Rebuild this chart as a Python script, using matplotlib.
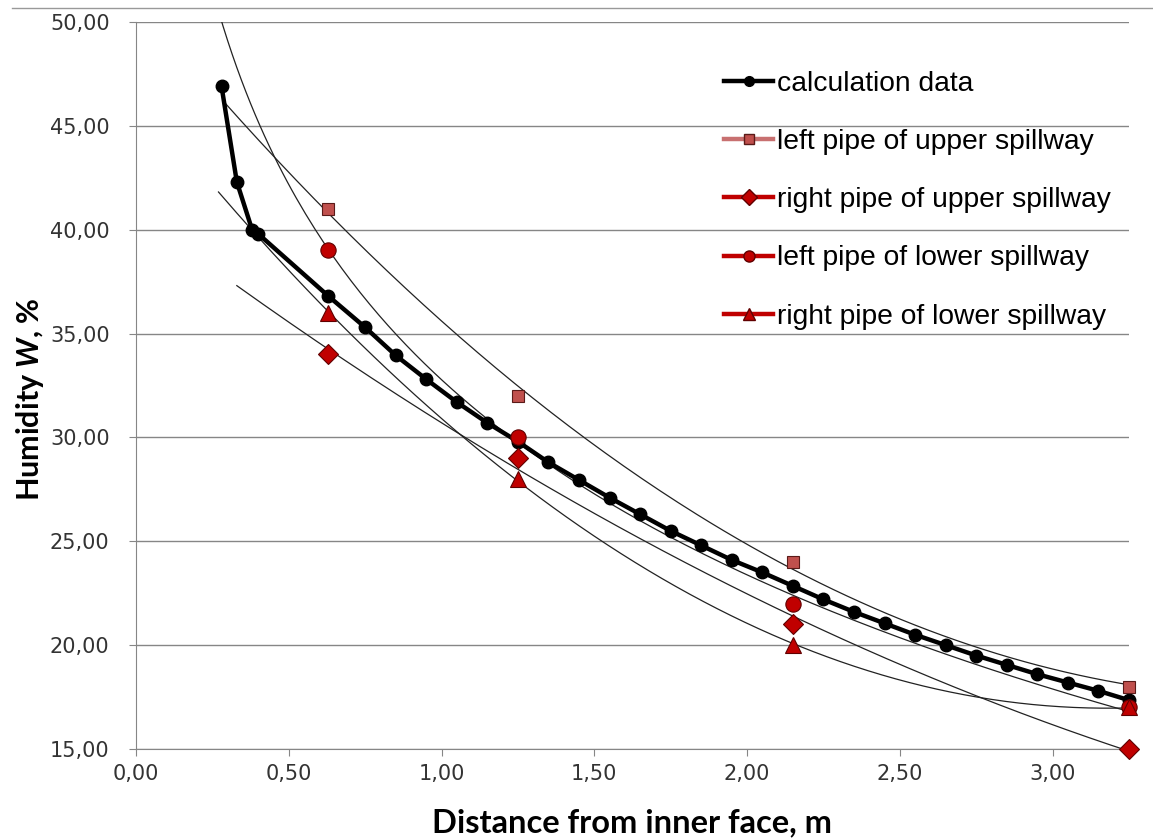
import numpy as np
import matplotlib
matplotlib.use("Agg")
import matplotlib.pyplot as plt
from matplotlib.lines import Line2D
from matplotlib.ticker import FuncFormatter, MultipleLocator

plt.rcParams['mathtext.fontset'] = 'custom'
plt.rcParams['mathtext.bfit'] = 'Lato:italic:bold'
plt.rcParams['mathtext.rm'] = 'Lato:bold'

# calculation data (black curve)
calc_x = [0.28, 0.33, 0.38, 0.40, 0.63, 0.75, 0.85, 0.95, 1.05, 1.15, 1.25, 1.35,
          1.45, 1.55, 1.65, 1.75, 1.85, 1.95, 2.05, 2.15, 2.25, 2.35, 2.45, 2.55,
          2.65, 2.75, 2.85, 2.95, 3.05, 3.15, 3.25]
calc_y = [46.9, 42.3, 40.0, 39.8, 36.8, 35.3, 33.95, 32.8, 31.7, 30.7, 29.8, 28.8,
          27.95, 27.1, 26.3, 25.5, 24.8, 24.1, 23.5, 22.85, 22.2, 21.6, 21.05, 20.5,
          20.0, 19.5, 19.05, 18.6, 18.2, 17.8, 17.35]

# measured points
pipe_x = [0.63, 1.25, 2.15, 3.25]
left_upper = [41, 32, 24, 18]
right_upper = [34, 29, 21, 15]
left_lower = [39, 30, 22, 17]
right_lower = [36, 28, 20, 17]

labels = ["calculation data", "left pipe of upper spillway", "right pipe of upper spillway",
          "left pipe of lower spillway", "right pipe of lower spillway"]

fig = plt.figure(figsize=(11.53, 8.39), dpi=100)
ax = fig.add_axes([136/1153, 1 - 749/839, (1129 - 136)/1153, (749 - 22)/839])

# trendlines (excel style: log for one, polynomial 2 for the others)
def trend(ys, kind, x0):
    xs = np.linspace(x0, pipe_x[-1], 200)
    if kind == 'log':
        c = np.polyfit(np.log(pipe_x), ys, 1)
        return xs, np.polyval(c, np.log(xs))
    c = np.polyfit(pipe_x, ys, 2)
    return xs, np.polyval(c, xs)

for ys, kind, x0 in [(left_upper, 'poly', 0.285), (right_upper, 'poly', 0.33),
                     (left_lower, 'log', 0.27), (right_lower, 'poly', 0.27)]:
    tx, ty = trend(ys, kind, x0)
    ax.plot(tx, ty, color='#222222', lw=0.9, zorder=2)

ax.plot(calc_x, calc_y, color='black', lw=3.2, marker='o', ms=9, zorder=4,
        clip_on=False, label=labels[0])
ax.plot(pipe_x, left_upper, ls='none', marker='s', ms=8.5, mfc='#C0504D',
        mec='#5a1a18', mew=0.8, zorder=5, clip_on=False)
ax.plot(pipe_x, right_upper, ls='none', marker='D', ms=10, mfc='#C00000',
        mec='#600000', mew=0.8, zorder=5, clip_on=False)
ax.plot(pipe_x, left_lower, ls='none', marker='o', ms=11, mfc='#C00000',
        mec='#600000', mew=0.8, zorder=5, clip_on=False)
ax.plot(pipe_x, right_lower, ls='none', marker='^', ms=11, mfc='#C00000',
        mec='#600000', mew=0.8, zorder=5, clip_on=False)

ax.set_xlim(0, 3.25)
ax.set_ylim(15, 50)
ax.xaxis.set_major_locator(MultipleLocator(0.5))
ax.yaxis.set_major_locator(MultipleLocator(5))
fmt = FuncFormatter(lambda v, p: f"{v:.2f}".replace('.', ','))
ax.xaxis.set_major_formatter(fmt)
ax.yaxis.set_major_formatter(fmt)

grey = '#868686'
ax.grid(axis='y', color=grey, lw=1)
ax.set_axisbelow(True)
for s in ['top', 'right']:
    ax.spines[s].set_visible(False)
for s in ['left', 'bottom']:
    ax.spines[s].set_color(grey)
ax.tick_params(direction='out', length=5, color=grey, labelsize=15,
               labelcolor='#333333')
ax.tick_params(axis='x', pad=6)
ax.tick_params(axis='y', pad=14)

ax.set_xlabel("Distance from inner face, m", fontsize=23.5, fontweight='bold',
              family='Lato')
ax.set_ylabel(r"Humidity $\mathbfit{W}$, %", fontsize=22, fontweight='bold',
              family='Lato')
ax.xaxis.set_label_coords(0.5, -(823 - 749)/727, transform=ax.transAxes)
ax.xaxis.label.set_va('center')
ax.yaxis.set_label_coords((30 - 136)/993, (749 - 399)/727)
ax.yaxis.label.set_va('center')

handles = [
    Line2D([], [], color='black', lw=3.2, marker='o', ms=7),
    Line2D([], [], color='#C87070', lw=3.2, marker='s', ms=7, mfc='#C0504D', mec='#5a1a18'),
    Line2D([], [], color='#C00000', lw=3.2, marker='D', ms=8, mfc='#C00000', mec='#600000'),
    Line2D([], [], color='#C00000', lw=3.2, marker='o', ms=8, mfc='#C00000', mec='#600000'),
    Line2D([], [], color='#C00000', lw=3.2, marker='^', ms=9, mfc='#C00000', mec='#600000'),
]
leg = ax.legend(handles, labels, loc='upper left', bbox_to_anchor=(724/1153, 1 - 71/839),
                bbox_transform=fig.transFigure, frameon=False,
                prop={'family': 'Liberation Sans', 'size': 20.3},
                handlelength=1.75, handletextpad=0.12, labelspacing=1.14,
                borderaxespad=0, borderpad=0)

fig.add_artist(Line2D([12/1153, 1], [1 - 8/839, 1 - 8/839], color='#999999', lw=1))

fig.savefig("out.png", dpi=100)
